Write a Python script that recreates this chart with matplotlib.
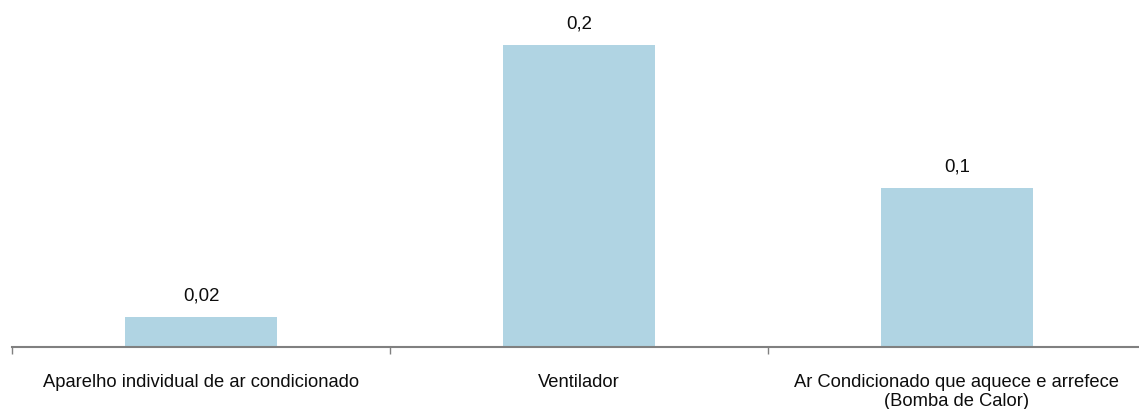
import matplotlib
matplotlib.use('Agg')
import matplotlib.pyplot as plt

plt.rcParams['font.family'] = ['Liberation Sans', 'DejaVu Sans']

# dados
categorias = ['Aparelho individual de ar condicionado', 'Ventilador',
              'Ar Condicionado que aquece e arrefece\n(Bomba de Calor)']
valores = [0.0199, 0.2, 0.105]
rotulos = ['0,02', '0,2', '0,1']

cor_barra = '#B0D4E3'
cor_eixo = '#808080'
cor_texto = '#0d0d0d'

fig = plt.figure(figsize=(11.39, 4.10), dpi=100)
ax = fig.add_axes([12/1139, 62/410, 1134/1139, 347/410])

x = range(len(categorias))
barras = ax.bar(x, valores, width=0.4, color=cor_barra)

for b, txt in zip(barras, rotulos):
    ax.annotate(txt, (b.get_x() + b.get_width()/2, b.get_height()),
                xytext=(0, 10), textcoords='offset points',
                ha='center', va='bottom', fontsize=13.4, color=cor_texto)

ax.set_xlim(-0.5, 2.5)
ax.set_ylim(0, 0.2298)

ax.set_xticks([-0.5, 0.5, 1.5, 2.5])
ax.set_xticklabels([])
ax.set_xticks(list(x), minor=True)
ax.set_xticklabels(categorias, minor=True, fontsize=13.2, color=cor_texto,
                   linespacing=1.1)
ax.tick_params(axis='x', which='major', length=5, color=cor_eixo, width=1)
ax.tick_params(axis='x', which='minor', length=0, pad=19)

ax.set_yticks([])
for s in ['top', 'right', 'left']:
    ax.spines[s].set_visible(False)
ax.spines['bottom'].set_color(cor_eixo)
ax.spines['bottom'].set_linewidth(1.5)

fig.savefig('out.png', dpi=100)
